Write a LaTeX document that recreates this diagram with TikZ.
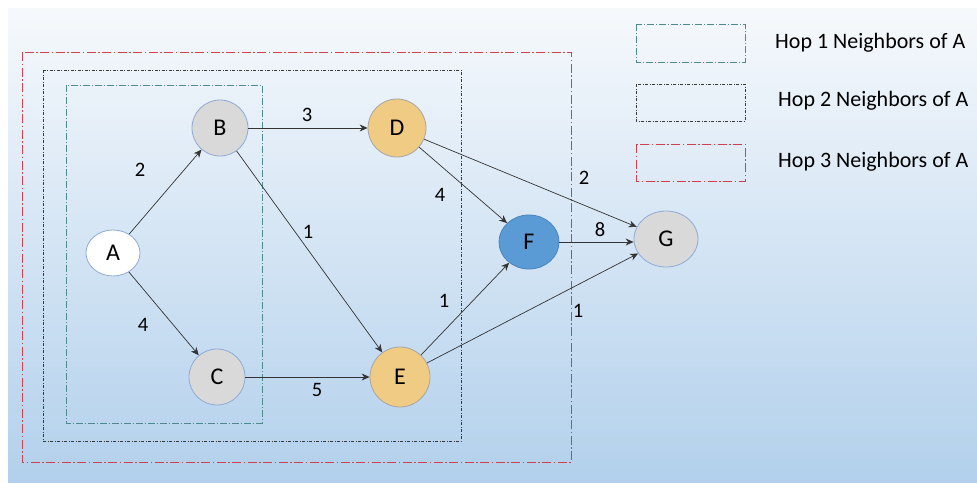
\documentclass[tikz,border=0pt]{standalone}
\usepackage{fontspec}
\setmainfont{Carlito}
\usetikzlibrary{shapes.geometric,arrows.meta}
\definecolor{bgtop}{HTML}{F6F9FC}
\definecolor{bgbot}{HTML}{B2D0EC}
\definecolor{grayfill}{HTML}{D9D9D9}
\definecolor{nodeline}{HTML}{8FAAD6}
\definecolor{goldfill}{HTML}{EFCB83}
\definecolor{goldline}{HTML}{A6A6A6}
\definecolor{bluefill}{HTML}{5B9BD5}
\definecolor{blueline}{HTML}{4A84BE}
\definecolor{hopone}{HTML}{4F8A8E}
\definecolor{hoptwo}{HTML}{3A3A3A}
\definecolor{hopthree}{HTML}{D2404E}
\definecolor{edgecol}{HTML}{333333}
\tikzset{
  vtx/.style={ellipse, inner sep=0pt, draw=nodeline, line width=0.8pt, font=\fontsize{24}{24}\selectfont},
  grayv/.style={vtx, fill=grayfill},
  goldv/.style={vtx, fill=goldfill, draw=goldline},
  bluev/.style={vtx, fill=bluefill, draw=blueline},
  whitev/.style={vtx, fill=white},
  edge/.style={draw=edgecol, line width=0.7pt, -{Stealth[length=8pt,width=7pt]}},
  wlab/.style={font=\fontsize{20.5}{20.5}\selectfont, inner sep=0pt},
  legtxt/.style={font=\fontsize{22}{22}\selectfont, anchor=west, inner sep=0pt},
  hop1/.style={draw=hopone, line width=0.8pt, dash pattern=on 7pt off 2pt on 1pt off 2pt},
  hop2/.style={draw=hoptwo, line width=0.8pt, dash pattern=on 3pt off 1.5pt on 1pt off 1.5pt},
  hop3/.style={draw=hopthree, line width=0.8pt, dash pattern=on 9pt off 2.5pt on 1.5pt off 2.5pt},
}
\begin{document}
\begin{tikzpicture}[x=1pt,y=-1pt]
\useasboundingbox (0,0) rectangle (977,482);
\fill[white] (0,0) rectangle (977,482);
\shade[top color=bgtop, bottom color=bgbot] (8,8) rectangle (977,482);

% hop boxes
\draw[hop3] (22,52) rectangle (571,462);
\draw[hop2] (43,70) rectangle (461,441);
\draw[hop1] (66,85) rectangle (262,423);

% legend
\draw[hop1] (636,24) rectangle (745,62);
\draw[hop2] (636,84) rectangle (745,121);
\draw[hop3] (636,144) rectangle (745,181);
\node[legtxt] (l1) at (775,43) {Hop 1 Neighbors of A};
\node[legtxt] (l2) at (778,101) {Hop 2 Neighbors of A};
\node[legtxt] (l3) at (778,162) {Hop 3 Neighbors of A};

% nodes
\node[whitev, minimum width=54pt, minimum height=46pt] (A) at (113,253) {A};
\node[grayv, minimum width=56pt, minimum height=56pt] (B) at (220,128) {B};
\node[grayv, minimum width=56pt, minimum height=56pt] (C) at (217,377) {C};
\node[goldv, minimum width=58pt, minimum height=58pt] (D) at (397,128) {D};
\node[goldv, minimum width=60pt, minimum height=60pt] (E) at (400,377) {E};
\node[bluev, minimum width=60pt, minimum height=54pt] (F) at (529,242) {F};
\node[grayv, minimum width=64pt, minimum height=56pt] (G) at (666,239) {G};

% edges
\draw[edge] (A) -- (B);
\draw[edge] (A) -- (C);
\draw[edge] (B) -- (D);
\draw[edge] (B) -- (E);
\draw[edge] (C) -- (E);
\draw[edge] (D) -- (F);
\draw[edge] (D) -- (G);
\draw[edge] (E) -- (F);
\draw[edge] (E) -- (G);
\draw[edge] (F.east) -- (F.east -| G.west);

% weights
\node[wlab] (wab) at (140,170) {2};
\node[wlab] (wac) at (143,325) {4};
\node[wlab] (wbd) at (307,115) {3};
\node[wlab] (wbe) at (308,232) {1};
\node[wlab] (wdf) at (440,195) {4};
\node[wlab] (wdg) at (584,178) {2};
\node[wlab] (wfg) at (600,230) {8};
\node[wlab] (wef) at (444,301) {1};
\node[wlab] (wce) at (317,390) {5};
\node[wlab] (weg) at (578,311) {1};
\end{tikzpicture}
\end{document}
